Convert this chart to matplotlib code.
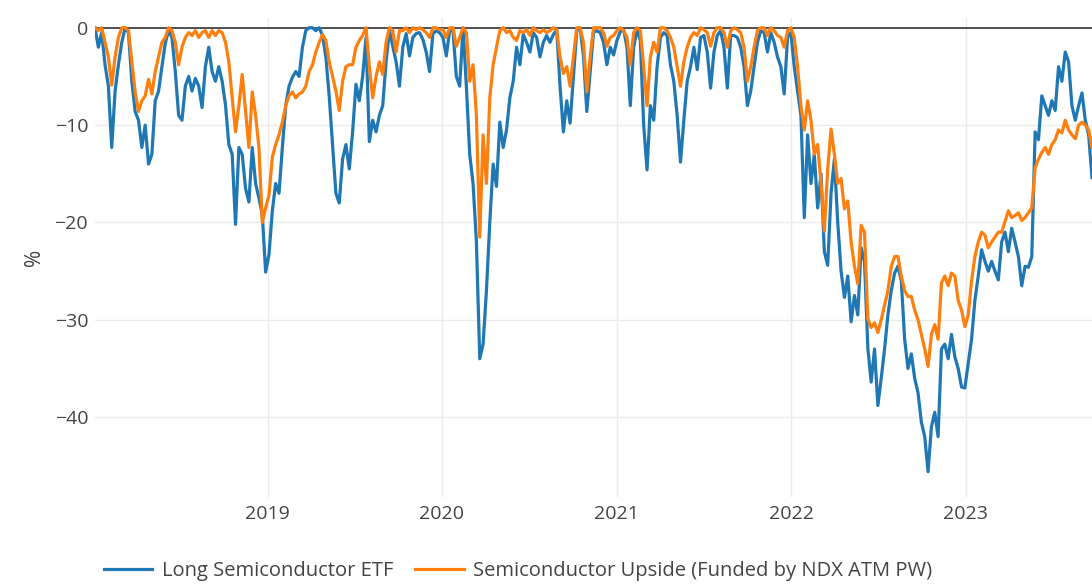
import pandas as pd
import matplotlib
matplotlib.use("Agg")
import matplotlib.pyplot as plt
import matplotlib.dates as mdates

plt.rcParams['font.family'] = ['Open Sans', 'DejaVu Sans']

# weekly drawdown readings (%), first week 2018-01-05
start_date = "2018-01-05"
long_etf = [
    0, -2.0, -0.5, -3.8, -6.0, -12.3, -6.5, -3.8, -1.5, 0,
    -0.5, -5.5, -8.6, -9.5, -12.3, -10.0, -14.0, -13.0, -7.5, -6.5,
    -4.0, -1.6, -0.3, -1.0, -4.5, -9.0, -9.5, -6.0, -5.0, -6.5,
    -5.2, -6.0, -8.2, -4.0, -2.0, -4.5, -5.5, -4.0, -5.5, -7.9,
    -12.0, -13.0, -20.2, -12.3, -13.0, -16.5, -17.9, -12.3, -16.0, -17.5,
    -19.2, -25.1, -23.3, -18.8, -16.0, -17.0, -12.3, -8.0, -6.0, -5.1,
    -4.5, -5.0, -2.0, -0.3, 0, 0, -0.3, 0, -0.8, -3.0,
    -7.0, -12.0, -17.0, -18.0, -13.5, -12.0, -14.5, -10.7, -5.8, -7.5,
    -5.0, -1.0, -11.7, -9.5, -10.7, -9.0, -8.0, -3.5, -0.3, -1.9,
    -3.5, -6.0, -2.0, -0.6, -2.9, -1.0, -0.6, -0.5, -1.2, -2.5,
    -4.5, -0.6, -0.3, -0.5, -1.0, -2.9, -0.3, -0.3, -5.0, -6.0,
    0, -6.0, -13.0, -16.0, -22.0, -34.0, -32.5, -27.0, -20.0, -14.0,
    -16.3, -9.7, -12.3, -10.5, -7.2, -5.5, -2.0, -3.8, -0.7, -1.5,
    -2.5, -0.5, -1.0, -3.0, -1.5, -0.8, -1.5, -0.7, -0.2, -6.0,
    -10.7, -7.5, -9.8, -5.0, -0.3, 0, -2.9, -8.6, -4.5, -0.5,
    -0.3, -0.5, -1.5, -3.8, -2.0, -2.8, -1.3, -0.4, -0.2, -2.0,
    -8.0, -2.0, -0.2, -1.3, -10.0, -14.6, -8.0, -9.5, -4.0, -1.0,
    -0.5, -0.8, -3.8, -5.5, -9.0, -13.8, -9.5, -5.5, -4.0, -2.0,
    -4.3, -1.0, -0.8, -2.5, -6.2, -2.5, -0.8, -0.3, -2.0, -6.2,
    -0.8, -0.8, -1.0, -2.0, -4.0, -8.0, -6.5, -4.0, -1.5, -0.3,
    -0.5, -2.5, -0.5, -1.5, -3.0, -4.0, -6.8, -1.0, -0.5, -4.0,
    -6.5, -9.0, -19.5, -11.0, -16.0, -13.0, -18.5, -15.0, -23.0, -24.4,
    -17.0, -13.5, -20.0, -25.0, -27.7, -25.5, -30.2, -27.5, -29.5, -22.6,
    -24.0, -32.9, -36.4, -33.0, -38.8, -36.0, -33.0, -29.5, -27.0, -25.2,
    -24.5, -26.0, -32.0, -35.0, -33.5, -36.0, -37.5, -40.5, -42.0, -45.6,
    -41.0, -39.5, -42.0, -33.0, -32.5, -34.0, -31.5, -33.8, -35.0, -36.9,
    -37.0, -34.5, -32.0, -28.0, -25.5, -22.8, -24.0, -25.0, -24.0, -25.0,
    -25.9, -22.0, -21.0, -23.0, -20.6, -22.0, -23.5, -26.5, -24.5, -24.6,
    -23.5, -10.7, -11.5, -7.0, -8.0, -9.0, -7.5, -8.5, -4.0, -5.5,
    -2.5, -3.5, -8.0, -9.5, -8.0, -6.7, -9.5, -11.0, -15.4,
]
upside = [
    0, -0.3, 0, -1.5, -3.0, -5.9, -3.0, -1.0, 0, 0,
    -0.3, -3.5, -6.6, -8.6, -7.5, -7.0, -5.3, -6.8, -4.5, -3.0,
    -1.5, -1.0, 0, -0.3, -1.5, -3.8, -2.0, -1.0, -0.5, -0.8,
    -0.3, -1.0, -0.5, -0.3, -1.0, -0.3, -0.8, -0.3, -0.5, -1.5,
    -3.5, -7.2, -10.7, -8.0, -4.8, -8.6, -12.3, -6.6, -9.0, -12.3,
    -20.0, -18.5, -17.2, -13.3, -12.0, -11.0, -9.7, -8.0, -7.0, -6.6,
    -7.2, -6.8, -6.6, -6.0, -4.5, -3.8, -2.5, -1.5, -0.7, -1.3,
    -3.5, -5.0, -6.5, -8.5, -5.5, -4.0, -3.8, -3.8, -2.0, -1.3,
    -0.8, 0, -4.0, -7.2, -5.0, -3.5, -4.8, -1.5, 0, -0.3,
    -2.5, -0.3, -0.3, 0, -0.5, 0, -0.2, 0, -0.2, -0.5,
    -1.0, 0, 0, -0.2, -0.2, -1.0, 0, 0, -1.9, -1.0,
    0, -0.5, -5.5, -3.8, -9.0, -21.5, -11.0, -16.0, -7.2, -3.8,
    -2.0, -0.3, 0, -0.5, -0.3, -1.0, -1.3, -0.3, -0.5, -0.2,
    -0.8, 0, -0.3, -0.5, -0.2, -0.5, -0.3, 0, -0.2, -3.0,
    -4.7, -4.0, -6.0, -3.0, 0, 0, -1.5, -6.6, -3.0, 0,
    0, 0, -0.5, -1.9, -1.0, -0.8, -0.3, 0, -0.3, -1.0,
    -3.8, -0.5, 0, -0.3, -4.0, -8.0, -3.0, -1.5, -2.5, 0,
    0, -0.3, -1.0, -2.0, -4.0, -6.0, -3.5, -2.0, -1.0, -0.5,
    -0.8, 0, -0.2, -0.5, -1.9, -0.5, 0, 0, -0.5, -2.0,
    -0.3, 0, -0.2, -0.5, -2.0, -5.5, -4.0, -2.0, -0.3, 0,
    0, -0.8, 0, -0.3, -0.8, -1.0, -2.0, -0.3, 0, -1.0,
    -4.0, -8.0, -10.5, -7.5, -9.5, -13.0, -12.0, -16.0, -20.9, -14.5,
    -10.4, -13.0, -16.0, -15.5, -18.6, -17.8, -22.0, -24.5, -26.3, -20.3,
    -21.0, -29.9, -30.8, -30.3, -31.3, -30.0, -28.5, -27.0, -24.5, -23.5,
    -23.5, -25.5, -27.0, -27.6, -27.6, -29.0, -30.0, -31.5, -33.0, -34.8,
    -31.5, -30.5, -32.0, -26.2, -25.5, -26.5, -25.2, -25.5, -28.0, -29.0,
    -30.7, -29.5, -26.0, -23.5, -22.0, -21.0, -21.3, -22.6, -22.0, -21.5,
    -21.0, -21.0, -19.9, -18.8, -19.5, -19.3, -19.0, -19.8, -19.5, -19.0,
    -18.5, -14.4, -13.5, -12.8, -12.3, -13.0, -12.0, -11.5, -10.5, -10.8,
    -9.5, -10.5, -11.0, -11.4, -10.0, -9.7, -10.0, -10.5, -12.3,
]
names = ["Long Semiconductor ETF", "Semiconductor Upside (Funded by NDX ATM PW)"]
colors = ["#1f77b4", "#ff7f0e"]
y_ticks = [0, -10, -20, -30, -40]

dates = pd.date_range(start_date, periods=len(long_etf), freq="7D")

fig = plt.figure(figsize=(10.92, 5.84), dpi=100)
ax = fig.add_axes([95 / 1092, 1 - 497 / 584, 997 / 1092, 479 / 584])

ax.axhline(0, color="#444444", lw=1.3, zorder=1.5)
for vals, name, c in zip([long_etf, upside], names, colors):
    ax.plot(dates, vals, color=c, lw=2.3, label=name, zorder=2)

ax.set_xlim(dates[0], dates[-1])
ax.set_ylim(-48.2, 1.0)
ax.set_yticks(y_ticks)
ax.set_yticklabels([str(t).replace("-", "\u2212") for t in y_ticks])
ax.xaxis.set_major_locator(mdates.YearLocator())
ax.xaxis.set_major_formatter(mdates.DateFormatter("%Y"))
ax.grid(True, color="#ebebeb", lw=1.0, zorder=0)
ax.set_axisbelow(True)
for s in ax.spines.values():
    s.set_visible(False)
ax.tick_params(length=0, labelsize=14, labelcolor="#444444", pad=6)
ax.tick_params(axis="y", pad=5)
ax.set_ylabel("%", fontsize=15, color="#444444", labelpad=7)

fig.legend(loc="center left", bbox_to_anchor=(86 / 1092, 1 - 571 / 584),
           ncol=2, frameon=False, fontsize=14.5, labelcolor="#444444",
           handlelength=2.4, handletextpad=0.45, columnspacing=1.1)

fig.savefig("out.png", dpi=100)
